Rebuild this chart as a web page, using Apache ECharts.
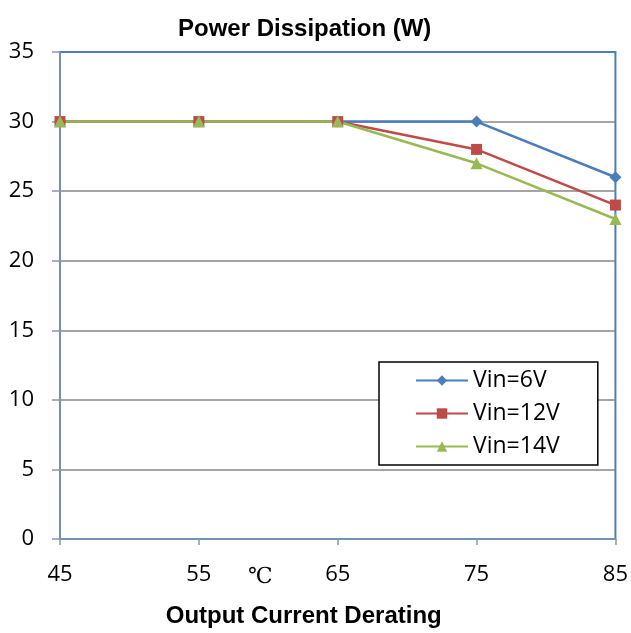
<!DOCTYPE html>
<html><head><meta charset="utf-8">
<script src="https://cdn.jsdelivr.net/npm/echarts@6/dist/echarts.min.js"></script>
<style>html,body{margin:0;padding:0;background:#fff}#c{width:631px;height:633px}</style>
</head><body><div id="c"></div>
<script>
const temps = [45, 55, 65, 75, 85];
const vin6 = [30, 30, 30, 30, 26];
const vin12 = [30, 30, 30, 28, 24];
const vin14 = [30, 30, 30, 27, 23];
const seriesNames = ['Vin=6V', 'Vin=12V', 'Vin=14V'];
const titleText = 'Power Dissipation (W)';
const xTitle = 'Output Current Derating';
const unitText = '℃';

const chart = echarts.init(document.getElementById('c'), null, {renderer: 'canvas'});
const pair = arr => temps.map((t, i) => [t, arr[i]]);
const mk = (name, data, color, symbol, size) => ({
  name, type: 'line', data: pair(data), symbol, symbolSize: size,
  lineStyle: {color, width: 2.5}, itemStyle: {color}, color, z: 3
});
const lblFont = {fontFamily: 'Open Sans, Liberation Sans', fontSize: 22, color: '#000'};
chart.setOption({
  animation: false,
  title: {text: titleText, left: 173, top: 12,
    textStyle: {fontFamily: 'Liberation Sans, Arial', fontWeight: 'bold', fontSize: 24, color: '#000'}},
  grid: {left: 60, right: 15, top: 52, bottom: 93, show: true, borderColor: '#4A7EBB', borderWidth: 2, backgroundColor: '#fff'},
  legend: {
    orient: 'vertical', left: 379, top: 362, data: seriesNames,
    itemWidth: 52, itemHeight: 13, itemGap: 8,
    padding: [6, 38, 6, 36], borderColor: '#000', borderWidth: 1.5, backgroundColor: '#fff',
    textStyle: {fontFamily: 'Open Sans, Liberation Sans', fontSize: 23, color: '#000', lineHeight: 25}
  },
  xAxis: {
    type: 'value', min: 45, max: 85, interval: 10,
    axisLine: {show: true, lineStyle: {color: '#8497B0', width: 1.5}},
    axisTick: {show: true, length: 6, lineStyle: {color: '#8497B0', width: 1.5}},
    axisLabel: Object.assign({margin: 25}, lblFont),
    splitLine: {show: false},
    name: xTitle, nameLocation: 'middle', nameGap: 65,
    nameTextStyle: {fontFamily: 'Liberation Sans, Arial', fontWeight: 'bold', fontSize: 24, color: '#000', padding: [0, 68, 0, 0]}
  },
  yAxis: {
    type: 'value', min: 0, max: 35, interval: 5,
    axisLine: {show: true, lineStyle: {color: '#8497B0', width: 1.5}},
    axisTick: {show: true, length: 8, lineStyle: {color: '#8497B0', width: 1.5}},
    axisLabel: Object.assign({margin: 26}, lblFont),
    splitLine: {show: true, showMinLine: false, showMaxLine: false, lineStyle: {color: '#878787', width: 1.5}}
  },
  graphic: [{type: 'text', left: 248, top: 566, style: {text: unitText, font: '22px "DejaVu Serif", serif', fill: '#000'}}],
  series: [
    mk(seriesNames[0], vin6, '#4A7EBB', 'diamond', 12),
    mk(seriesNames[1], vin12, '#BE4B48', 'rect', 11),
    mk(seriesNames[2], vin14, '#98B954', 'triangle', 12)
  ]
});
</script></body></html>
